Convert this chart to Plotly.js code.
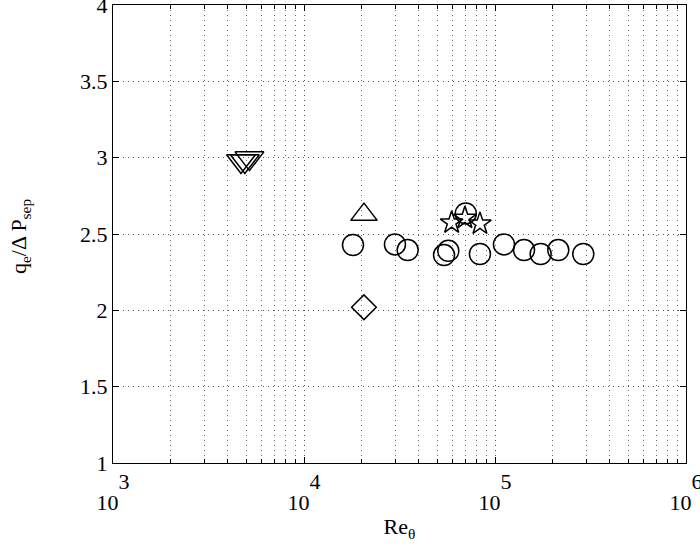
<!DOCTYPE html>
<html>
<head>
<meta charset="utf-8">
<script src="https://cdn.plot.ly/plotly-3.0.1.min.js"></script>
<style>html,body{margin:0;padding:0;background:#fff;}#chart{width:700px;height:551px;}</style>
</head>
<body>
<div id="chart"></div>
<script>
// Data
var circleRe = [18050, 29940, 34900, 54100, 56950, 70300, 83400, 111400, 141900, 173400, 214400, 289900];
var circleQ  = [2.428, 2.432, 2.395, 2.362, 2.390, 2.635, 2.369, 2.432, 2.395, 2.369, 2.395, 2.369];
var triDownRe = [4680, 4900, 5180];
var triDownQ  = [2.978, 2.978, 2.997];
var triUpRe = [20600];
var triUpQ  = [2.627];
var diamondRe = [20600];
var diamondQ  = [2.02];
var starRe = [59300, 69600, 83400];
var starQ  = [2.574, 2.605, 2.567];

var xTickVals = [1e3, 1e4, 1e5, 1e6];
var xTickExp = ['3', '4', '5', '6'];
var yTickVals = [1, 1.5, 2, 2.5, 3, 3.5, 4];
var yTickText = ['1', '1.5', '2', '2.5', '3', '3.5', '4'];
var yTitle = 'q<sub>e</sub>/Δ P<sub>sep</sub>';
var xTitle = 'Re<sub>θ</sub>';

// Matlab-style "10" with a full-size exponent above-right
var S = '<span style="font-size:22px">';
var xTickText = xTickExp.map(function (e) {
  return S + '&nbsp;&nbsp;&nbsp;&nbsp;' + e + '</span><br>' + S + '10&nbsp;&nbsp;</span>';
});

function mk(x, y, sym, size) {
  return {
    x: x, y: y, type: 'scatter', mode: 'markers', showlegend: false,
    marker: {symbol: sym, size: size, color: '#000', line: {color: '#000', width: 1.5}}
  };
}

var traces = [
  mk(circleRe, circleQ, 'circle-open', 21),
  mk(triDownRe, triDownQ, 'triangle-down-open', 25),
  mk(triUpRe, triUpQ, 'triangle-up-open', 23),
  mk(diamondRe, diamondQ, 'diamond-open', 19),
  mk(starRe, starQ, 'star-open', 17)
];

var font = {family: 'Liberation Serif, Times New Roman, serif', size: 22, color: '#000'};
var xTickFont = {family: 'Liberation Serif, Times New Roman, serif', size: 16, color: '#000'};
var gridDash = '1px,4px';

var layout = {
  width: 700, height: 551,
  margin: {l: 113, r: 14, t: 5, b: 88},
  paper_bgcolor: '#fff', plot_bgcolor: '#fff',
  font: font,
  xaxis: {
    type: 'log', range: [3, 6], autorange: false,
    tickvals: xTickVals, ticktext: xTickText,
    ticks: 'inside', ticklen: 6, tickcolor: '#000',
    ticklabeloverflow: 'allow', ticklabelstandoff: 6,
    showline: true, linecolor: '#000', linewidth: 1, mirror: 'allticks',
    showgrid: true, gridcolor: '#555', griddash: gridDash, gridwidth: 1,
    minor: {dtick: 'D1', ticks: 'inside', ticklen: 4, tickcolor: '#000', showgrid: true, gridcolor: '#666', griddash: gridDash, gridwidth: 1},
    zeroline: false,
    tickfont: xTickFont,
    title: {text: xTitle, font: font, standoff: 4}
  },
  yaxis: {
    range: [1, 4], autorange: false,
    tickvals: yTickVals, ticktext: yTickText,
    ticks: 'inside', ticklen: 6, tickcolor: '#000',
    ticklabeloverflow: 'allow',
    showline: true, linecolor: '#000', linewidth: 1, mirror: 'allticks',
    showgrid: true, gridcolor: '#555', griddash: gridDash, gridwidth: 1,
    zeroline: false,
    tickfont: font
  },
  annotations: [{
    text: yTitle, textangle: -90, font: font, showarrow: false,
    xref: 'paper', yref: 'paper', x: 0, y: 0.5,
    xanchor: 'center', yanchor: 'middle', xshift: -93, yshift: -3
  }]
};

Plotly.newPlot('chart', traces, layout, {displayModeBar: false, staticPlot: true});
</script>
</body>
</html>
